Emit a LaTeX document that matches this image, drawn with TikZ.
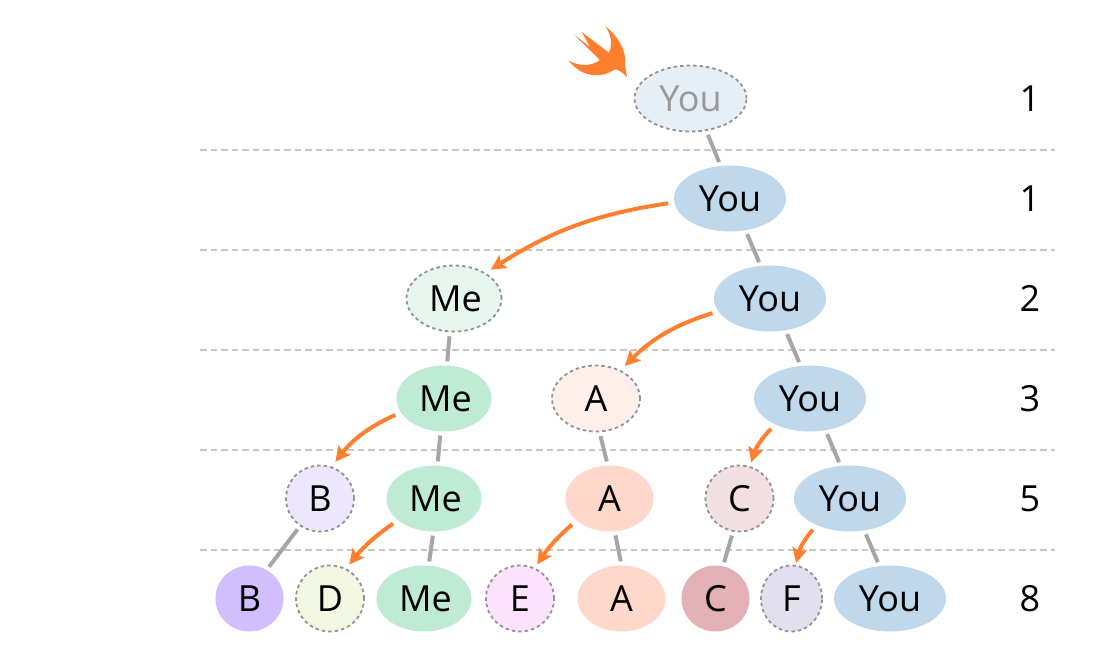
\documentclass[tikz,border=0pt]{standalone}
\usepackage{fontspec}
\setmainfont{Open Sans}
\usetikzlibrary{shapes.geometric,arrows.meta}
\definecolor{edgegray}{HTML}{A6A6A6}
\definecolor{ruleg}{HTML}{C8C8C8}
\definecolor{swiftor}{HTML}{FF7F2F}
\definecolor{dashg}{HTML}{949494}
\definecolor{myE6EEF6}{HTML}{E6EEF6}
\definecolor{myC0D8EC}{HTML}{C0D8EC}
\definecolor{myE6F6EE}{HTML}{E6F6EE}
\definecolor{myBFEAD3}{HTML}{BFEAD3}
\definecolor{myFFEFEA}{HTML}{FFEFEA}
\definecolor{myFFD7CB}{HTML}{FFD7CB}
\definecolor{myECE6FF}{HTML}{ECE6FF}
\definecolor{myD0BEFF}{HTML}{D0BEFF}
\definecolor{myF2F7E2}{HTML}{F2F7E2}
\definecolor{myFCE2FF}{HTML}{FCE2FF}
\definecolor{myF2E0E2}{HTML}{F2E0E2}
\definecolor{myE2B0B5}{HTML}{E2B0B5}
\definecolor{myE2E0EE}{HTML}{E2E0EE}
\tikzset{
  base/.style={ellipse,inner sep=0pt,minimum height=66pt,font=\fontsize{36}{40}\selectfont,text=black},
  dsh/.style={draw=dashg,line width=1.8pt,dash pattern=on 3.5pt off 3pt},
  you/.style={base,minimum width=112pt,fill=#1},
  me/.style={base,minimum width=95pt,fill=#1},
  aa/.style={base,minimum width=88pt,fill=#1},
  circ/.style={base,minimum width=68pt,fill=#1},
  edge/.style={draw=edgegray,line width=4pt,shorten >=4pt,shorten <=4pt},
  arr/.style={draw=swiftor,line width=4pt,-{Stealth[length=15pt,width=15pt,inset=3pt]},shorten >=6pt,shorten <=6pt},
  rule/.style={draw=ruleg,line width=1.4pt,dash pattern=on 6.5pt off 4pt},
  count/.style={font=\fontsize{36}{40}\selectfont,inner sep=0pt,text=black}
}
\begin{document}
\begin{tikzpicture}[x=1pt,y=-1pt]
\useasboundingbox (0,0) rectangle (1120,662);
\foreach \yy [count=\i] in {150,250,350,450,550}{
  \coordinate (l\i) at (200,\yy);
  \coordinate (r\i) at (1055,\yy);
  \draw[rule] (l\i) -- (r\i);
}
% swift logo
\fill[swiftor] (605,26) .. controls (619,37) and (627,52) .. (625,65)
  -- (627,77) .. controls (621,71) and (617,69) .. (614.5,69.5)
  .. controls (604,77) and (584,80) .. (568.5,60.5)
  .. controls (580,67) and (592,66) .. (600,60)
  -- (573.3,34) -- (590,47) -- (581.7,32) -- (609,52.7)
  .. controls (613,44) and (611,34) .. (605,26) -- cycle;
% nodes
\node[you=myE6EEF6,dsh,text=black!40] (y0) at (690.5,98.5) {You};
\node[you=myC0D8EC] (y1) at (730,198.5) {You};
\node[you=myC0D8EC] (y2) at (770,298.5) {You};
\node[you=myC0D8EC] (y3) at (810,398.5) {You};
\node[you=myC0D8EC] (y4) at (850,498.5) {You};
\node[you=myC0D8EC] (y5) at (890,598.5) {You};
\node[me=myE6F6EE,dsh] (m0) at (454,298.5) {\hspace{3pt}Me};
\node[me=myBFEAD3] (m1) at (444,398.5) {\hspace{3pt}Me};
\node[me=myBFEAD3] (m2) at (434,498.5) {\hspace{3pt}Me};
\node[me=myBFEAD3] (m3) at (424,598.5) {\hspace{3pt}Me};
\node[aa=myFFEFEA,dsh] (a0) at (596,398.5) {A};
\node[aa=myFFD7CB] (a1) at (609.5,498.5) {A};
\node[aa=myFFD7CB] (a2) at (621.5,598.5) {A};
\node[circ=myECE6FF,dsh] (b0) at (320,498.5) {B};
\node[circ=myD0BEFF] (b1) at (249.5,598.5) {B};
\node[circ=myF2F7E2,dsh] (d) at (330,598.5) {D};
\node[circ=myFCE2FF,dsh] (e) at (520,598.5) {E};
\node[circ=myF2E0E2,dsh] (c0) at (739.5,498.5) {C};
\node[circ=myE2B0B5] (c1) at (715.5,598.5) {C};
\node[base,minimum width=61pt,fill=myE2E0EE,dsh] (f) at (791.5,598.5) {F};
% counts
\node[count] (n0) at (1030,98.5) {1};
\node[count] (n1) at (1030,198.5) {1};
\node[count] (n2) at (1030,298.5) {2};
\node[count] (n3) at (1030,398.5) {3};
\node[count] (n4) at (1030,498.5) {5};
\node[count] (n5) at (1030,598.5) {8};
% tree edges
\draw[edge] (y0.-64) -- (y1.106);
\draw[edge] (y1.-64) -- (y2.106);
\draw[edge] (y2.-64) -- (y3.106);
\draw[edge] (y3.-64) -- (y4.106);
\draw[edge] (y4.-66) -- (y5.108);
\draw[edge] (c0.-101.6) -- (c1.77.8);
\draw[edge] (a0.-84) -- (a1.93);
\draw[edge] (a1.-81) -- (a2.90);
\draw[edge] (m0.-97.5) -- (m1.85);
\draw[edge] (m1.-96) -- (m2.84);
\draw[edge] (m2.-91.5) -- (m3.82.5);
\draw[edge] (b0.-126.6) -- (b1.59.5);
% steals
\draw[arr] (y1.184.6) to[bend right=12] (m0.39);
\draw[arr] (y2.194.7) to[bend right=14] (a0.49);
\draw[arr] (m1.198.4) to[bend right=14] (b0.70);
\draw[arr,shorten >=4pt] (y3.217) to[bend right=14] (c0.72);
\draw[arr,shorten >=5pt] (m2.211) to[bend right=8] (d.62);
\draw[arr,shorten >=4pt] (a1.214) to[bend right=8] (e.64);
\draw[arr,shorten >=2pt] (y4.219) to[bend right=14] (f.83);
\end{tikzpicture}
\end{document}
